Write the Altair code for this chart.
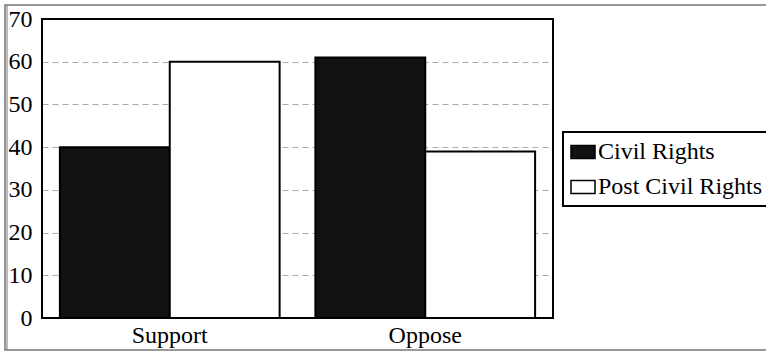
import altair as alt
import pandas as pd

categories = ["Support", "Support", "Oppose", "Oppose"]
series = ["Civil Rights", "Post Civil Rights", "Civil Rights", "Post Civil Rights"]
values = [40, 60, 61, 39]
y_ticks = [0, 10, 20, 30, 40, 50, 60, 70]

df = pd.DataFrame({"category": categories, "series": series, "value": values})

FONT = "Liberation Serif"
FS = 24
W, H = 511, 299

bars = alt.Chart(df).mark_bar(stroke="black", strokeWidth=2, clip=False).encode(
    x=alt.X("category:N", sort=["Support", "Oppose"],
            scale=alt.Scale(paddingInner=0.14, paddingOuter=0.07),
            axis=alt.Axis(title=None, labelAngle=0, ticks=False, domain=False,
                          labelFont=FONT, labelFontSize=FS, labelColor="black",
                          labelPadding=5)),
    xOffset=alt.XOffset("series:N", sort=["Civil Rights", "Post Civil Rights"],
                        scale=alt.Scale(paddingInner=0, paddingOuter=0)),
    y=alt.Y("value:Q", scale=alt.Scale(domain=[0, 70], nice=False),
            axis=alt.Axis(title=None, values=y_ticks, ticks=False, domain=False,
                          labelFont=FONT, labelFontSize=FS, labelColor="black",
                          labelPadding=10, grid=True, gridColor="#aaaaaa",
                          gridDash=[6, 4], gridWidth=1)),
    color=alt.Color("series:N", sort=["Civil Rights", "Post Civil Rights"],
                    scale=alt.Scale(domain=["Civil Rights", "Post Civil Rights"],
                                    range=["#111111", "#ffffff"]),
                    legend=alt.Legend(title=None, orient="none", legendX=521, legendY=113,
                                      strokeColor="black", padding=7,
                                      symbolType="M-1,-0.55H1V0.55H-1Z", symbolSize=576,
                                      symbolStrokeColor="black", symbolStrokeWidth=1.5,
                                      labelFont=FONT, labelFontSize=FS, labelColor="black",
                                      labelOffset=2, labelLimit=0, symbolOpacity=1,
                                      fillColor="white")),
)

plot_frame = alt.Chart(pd.DataFrame({"a": [0]})).mark_rect(
    fill=None, stroke="black", strokeWidth=2, clip=False
).encode(x=alt.value(0), x2=alt.value(W), y=alt.value(0), y2=alt.value(H))

frame = alt.Chart(pd.DataFrame({"a": [0]})).mark_rect(
    fill=None, stroke="#777777", strokeWidth=1.5, clip=False
).encode(x=alt.value(-37), x2=alt.value(800), y=alt.value(-14), y2=alt.value(331))

frame2 = alt.Chart(pd.DataFrame({"a": [0]})).mark_rule(
    stroke="#777777", strokeWidth=1, clip=False
).encode(x=alt.value(-35), y=alt.value(-14), y2=alt.value(331))

chart = alt.layer(frame, frame2, bars, plot_frame).properties(
    width=W, height=H,
    autosize=alt.AutoSizeParams(type="none"),
    padding={"left": 42, "top": 19, "right": 213, "bottom": 34},
    background="white",
).configure_view(stroke=None).configure_legend(strokeWidth=2, rowPadding=10)

chart.save("out.html", embed_options={"renderer": "svg", "actions": False})
